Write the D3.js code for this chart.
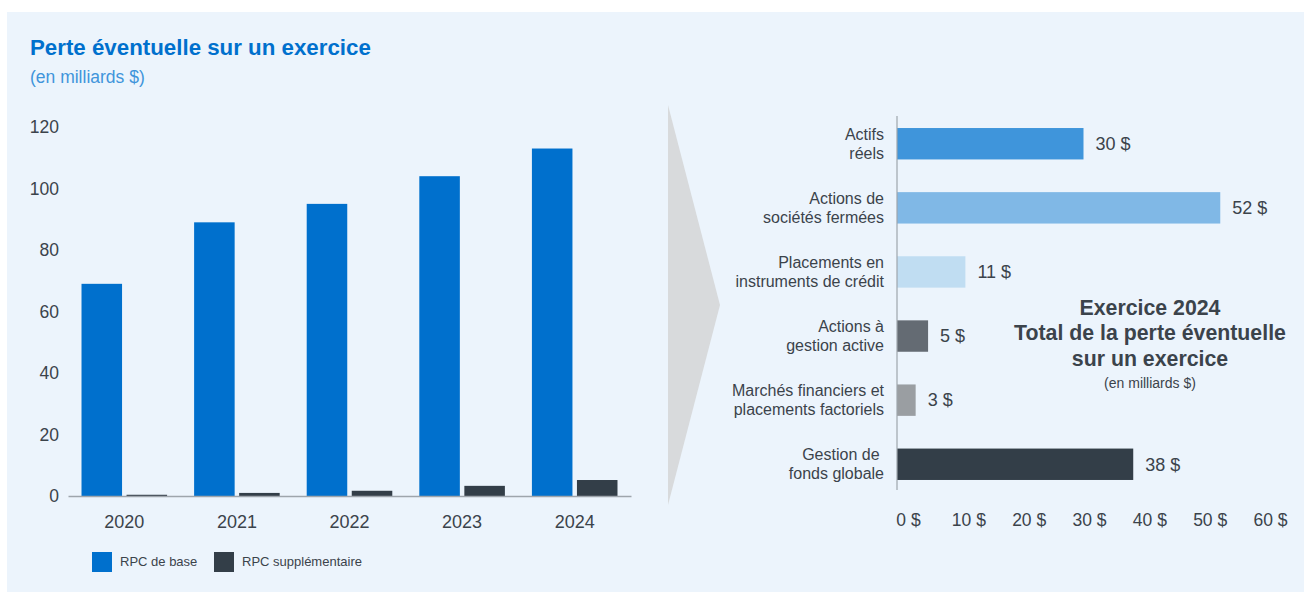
<!DOCTYPE html>
<html><head><meta charset="utf-8">
<script src="https://cdn.jsdelivr.net/npm/d3@7"></script>
<style>
html,body{margin:0;padding:0;background:#fff;}
svg{display:block;font-family:"Liberation Sans",Arial,Helvetica,sans-serif;}
</style></head>
<body>
<svg id="c" width="1304" height="593"></svg>
<script>
// ---- data ----
const years = ["2020","2021","2022","2023","2024"];
const rpcBase = [69, 89, 95, 104, 113];
const rpcSupp = [0.4, 1.0, 1.7, 3.3, 5.2];
const seriesNames = ["RPC de base","RPC supplémentaire"];
const yTicks = [0,20,40,60,80,100,120];

const categories = [
  ["Actifs","réels"],
  ["Actions de","sociétés fermées"],
  ["Placements en","instruments de crédit"],
  ["Actions à","gestion active"],
  ["Marchés financiers et","placements factoriels"],
  ["Gestion de\u00a0","fonds globale"]
];
const loss2024 = [30, 52, 11, 5, 3, 38];
const xTicks = [0,10,20,30,40,50,60];

const title = "Perte éventuelle sur un exercice";
const subtitle = "(en milliards $)";
const annot = ["Exercice 2024","Total de la perte éventuelle","sur un exercice"];
const annotSub = "(en milliards $)";

// ---- styles ----
const txt = "#3b434b";
const seriesColors = ["#0070cd","#333e48"];
const catColors = ["#3f95db","#80b8e6","#c0ddf2","#646b73","#9a9ea2","#333e48"];

const svg = d3.select("#c");
svg.append("rect").attr("x",7).attr("y",12).attr("width",1297).attr("height",580).attr("fill","#ecf4fc");

svg.append("text").attr("x",30).attr("y",55).attr("font-size",22.3).attr("font-weight","bold")
  .attr("fill","#0070cd").text(title);
svg.append("text").attr("x",30).attr("y",83).attr("font-size",17.5)
  .attr("fill","#3f95db").text(subtitle);

// ---- left chart ----
const x0 = d3.scaleBand().domain(years).range([68,631]).paddingInner(0.24).paddingOuter(0.12);
const x1 = d3.scaleBand().domain([0,1]).range([0,x0.bandwidth()]).paddingInner(0.1);
const y = d3.scaleLinear().domain([0,120]).range([496,127]);

const yAxis = d3.axisLeft(y).tickValues(yTicks).tickSize(0).tickPadding(0);
const gy = svg.append("g").attr("transform","translate(59,0)").call(yAxis);
gy.select(".domain").remove();
gy.selectAll("text").attr("font-size",17.5).attr("fill",txt).attr("font-family","inherit");

const rows = years.map((yr,i)=>({yr, vals:[rpcBase[i], rpcSupp[i]]}));
const grp = svg.append("g").selectAll("g").data(rows).join("g")
  .attr("transform",d=>`translate(${x0(d.yr)},0)`);
grp.selectAll("rect").data(d=>d.vals.map((v,k)=>({v,k}))).join("rect")
  .attr("x",d=>x1(d.k)).attr("width",x1.bandwidth())
  .attr("y",d=>y(d.v)).attr("height",d=>y(0)-y(d.v))
  .attr("fill",d=>seriesColors[d.k]);

const xAxis = d3.axisBottom(x0).tickSize(0).tickPadding(19);
const gx = svg.append("g").attr("transform","translate(0,496)").call(xAxis);
gx.select(".domain").attr("stroke","#9ea5ac").attr("stroke-width",1.5);
gx.selectAll("text").attr("font-size",18).attr("fill",txt).attr("font-family","inherit");

// legend
const leg = svg.append("g");
const legX = [92, 214];
seriesNames.forEach((n,i)=>{
  leg.append("rect").attr("x",legX[i]).attr("y",552).attr("width",20).attr("height",20).attr("fill",seriesColors[i]);
  leg.append("text").attr("x",legX[i]+28).attr("y",566).attr("font-size",13).attr("fill",txt).text(n);
});

// arrow
svg.append("path").attr("d","M668,105 L720,305 L668,505 Z").attr("fill","#d8dadc");

// ---- right chart ----
const yb = d3.scaleBand().domain(d3.range(categories.length)).range([112,496]).paddingInner(0.51).paddingOuter(0.25);
const xb = d3.scaleLinear().domain([0,60]).range([897,1270]);
const xLab = d3.scaleLinear().domain([0,60]).range([908,1270]);

svg.append("g").selectAll("rect").data(loss2024).join("rect")
  .attr("x",xb(0)).attr("y",(d,i)=>yb(i)).attr("height",yb.bandwidth())
  .attr("width",d=>xb(d)-xb(0)).attr("fill",(d,i)=>catColors[i]);

svg.append("g").selectAll("text").data(loss2024).join("text")
  .attr("x",d=>xb(d)+12).attr("y",(d,i)=>yb(i)+yb.bandwidth()/2).attr("dy","0.35em")
  .attr("font-size",18).attr("fill",txt).text(d=>d+" $");

svg.append("line").attr("x1",xb(0)).attr("x2",xb(0)).attr("y1",116).attr("y2",490)
  .attr("stroke","#9ea5ac").attr("stroke-width",1.2);

const cl = svg.append("g").selectAll("text").data(categories).join("text")
  .attr("text-anchor","end").attr("font-size",16).attr("fill",txt)
  .attr("y",(d,i)=>yb(i)+yb.bandwidth()/2);
cl.selectAll("tspan").data(d=>d).join("tspan")
  .attr("x",884).attr("dy",(d,j)=>j===0?-3.8:19)
  .attr("style","white-space:pre").text(d=>d);

const gxb = svg.append("g").attr("transform","translate(0,514)")
  .call(d3.axisBottom(xLab).tickValues(xTicks).tickSize(0).tickPadding(0).tickFormat(d=>d+" $"));
gxb.select(".domain").remove();
gxb.selectAll("text").attr("font-size",17.5).attr("fill",txt).attr("font-family","inherit");

// annotation
const an = svg.append("g").attr("text-anchor","middle");
annot.forEach((t,i)=>{
  an.append("text").attr("x",1150).attr("y",314.5+i*25.5).attr("font-size",21.3).attr("font-weight","bold")
    .attr("fill","#3b434b").text(t);
});
an.append("text").attr("x",1150).attr("y",388).attr("font-size",14).attr("fill",txt).text(annotSub);
</script>
</body></html>
